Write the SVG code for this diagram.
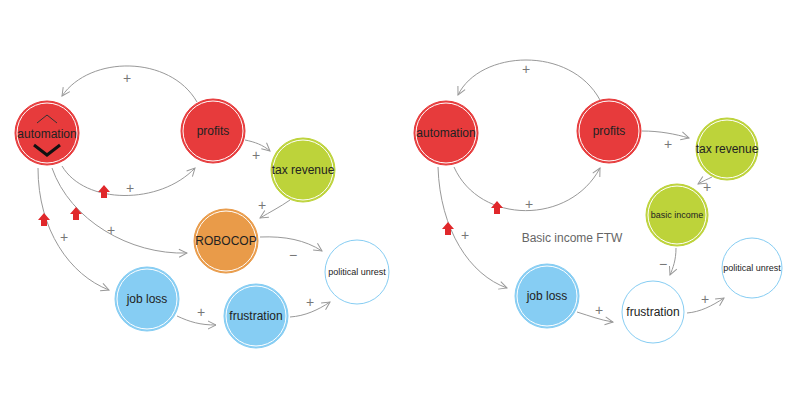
<svg xmlns="http://www.w3.org/2000/svg" width="800" height="400" viewBox="0 0 800 400">
<style>
text{font-family:"Liberation Sans",Arial,sans-serif;fill:#222;text-anchor:middle;dominant-baseline:central}
.n{font-size:12px}.s{font-size:9px}
.r{fill:#e73b3c;stroke:#e73b3c}.g{fill:#bdd33a;stroke:#bdd33a}.o{fill:#e99b49;stroke:#e99b49}.b{fill:#86cdf3;stroke:#86cdf3}.w{fill:#fff;stroke:#86cdf3}
circle{stroke-width:1}
.in{fill:none;stroke:#fff;stroke-width:1}
.c path{fill:none;stroke:#999;stroke-width:1;marker-end:url(#a)}
.p{fill:#777;font-size:14px}
.up{fill:#e0282b}
</style>
<defs>
<marker id="a" viewBox="0 0 10 10" refX="9" refY="5" markerWidth="10" markerHeight="10" orient="auto" markerUnits="userSpaceOnUse"><path d="M1,1 L9,5 L1,9" fill="none" stroke="#999" stroke-width="1"/></marker>
<path id="ua" d="M0,-7 L6,0 L3,0 L3,6 L-3,6 L-3,0 L-6,0Z"/>
</defs>
<g class="c">
<path d="M197,102 C170,55 90,55 62,96"/>
<path d="M62,166 C85,205 160,205 195,168"/>
<path d="M245,140 C255,142 263,145 270,151"/>
<path d="M290,200 C280,207 270,212 260,218"/>
<path d="M52,168 C70,220 130,255 187,253"/>
<path d="M38,168 C38,230 70,275 109,290"/>
<path d="M260,237 C285,236 305,240 322,251"/>
<path d="M177,316 C190,322 200,325 216,325"/>
<path d="M290,317 C305,316 318,310 330,302"/>
<path d="M600,100 C570,45 480,50 458,95"/>
<path d="M454,167 C480,225 570,225 600,168"/>
<path d="M438,167 C440,230 470,275 507,288"/>
<path d="M642,131 C660,131 675,134 689,138"/>
<path d="M712,177 C708,179 703,181 698,184"/>
<path d="M676,248 C676,260 673,268 670,275"/>
<path d="M577,312 C590,316 600,320 613,322"/>
<path d="M687,313 C700,312 712,306 724,298"/>
</g>
<g fill="#777" font-size="14">
<text class="p" x="127" y="78">+</text><text class="p" x="130" y="188">+</text><text class="p" x="256" y="155">+</text>
<text class="p" x="262" y="205">+</text><text class="p" x="111" y="230">+</text><text class="p" x="64" y="237">+</text>
<text class="p" x="293" y="255">−</text><text class="p" x="201" y="312">+</text><text class="p" x="310" y="302">+</text>
<text class="p" x="526" y="69">+</text><text class="p" x="529" y="204">+</text><text class="p" x="465" y="235">+</text>
<text class="p" x="668" y="144">+</text><text class="p" x="707" y="187">+</text><text class="p" x="663" y="264">−</text>
<text class="p" x="599" y="310">+</text><text class="p" x="705" y="299">+</text>
</g>
<g class="up">
<use href="#ua" x="104" y="192"/><use href="#ua" x="76" y="214"/><use href="#ua" x="44" y="220"/>
<use href="#ua" x="497" y="208"/><use href="#ua" x="448" y="229"/>
</g>
<g id="automation1"><circle class="r" cx="47" cy="133" r="32"/><circle class="in" cx="47" cy="133" r="30"/><text class="n" x="47" y="134">automation</text>
<path d="M37,123 L47,115 L57,123" fill="none" stroke="#333" stroke-width="1"/><path d="M34,145 L47,155 L60,145" fill="none" stroke="#111" stroke-width="3"/></g>
<g id="profits1"><circle class="r" cx="213" cy="131" r="32"/><circle class="in" cx="213" cy="131" r="30"/><text class="n" x="213" y="131">profits</text></g>
<g id="tax1"><circle class="g" cx="303" cy="170" r="32"/><circle class="in" cx="303" cy="170" r="30"/><text class="n" x="303" y="170">tax revenue</text></g>
<g id="robocop"><circle class="o" cx="226" cy="241" r="32"/><circle class="in" cx="226" cy="241" r="30"/><text class="n" x="226" y="241">ROBOCOP</text></g>
<g id="unrest1"><circle class="w" cx="357" cy="272" r="32"/><text class="s" x="357" y="272">political unrest</text></g>
<g id="jobloss1"><circle class="b" cx="147" cy="299" r="32"/><circle class="in" cx="147" cy="299" r="30"/><text class="n" x="147" y="299">job loss</text></g>
<g id="frustration1"><circle class="b" cx="256" cy="316" r="32"/><circle class="in" cx="256" cy="316" r="30"/><text class="n" x="256" y="316">frustration</text></g>
<g id="automation2"><circle class="r" cx="446" cy="133" r="32"/><circle class="in" cx="446" cy="133" r="30"/><text class="n" x="446" y="133">automation</text></g>
<g id="profits2"><circle class="r" cx="609" cy="131" r="32"/><circle class="in" cx="609" cy="131" r="30"/><text class="n" x="609" y="131">profits</text></g>
<g id="tax2"><circle class="g" cx="727" cy="149" r="31"/><circle class="in" cx="727" cy="149" r="29"/><text class="n" x="727" y="149">tax revenue</text></g>
<g id="basicincome"><circle class="g" cx="677" cy="215" r="31"/><circle class="in" cx="677" cy="215" r="29"/><text class="s" x="677" y="215" font-size="10">basic income</text></g>
<g id="unrest2"><circle class="w" cx="752" cy="268" r="30"/><text class="s" x="752" y="268">political unrest</text></g>
<g id="jobloss2"><circle class="b" cx="547" cy="296" r="32"/><circle class="in" cx="547" cy="296" r="30"/><text class="n" x="547" y="296">job loss</text></g>
<g id="frustration2"><circle class="w" cx="653" cy="312" r="31"/><text class="n" x="653" y="312">frustration</text></g>
<text x="572" y="238" font-size="12" style="fill:#666">Basic income FTW</text>
</svg>
